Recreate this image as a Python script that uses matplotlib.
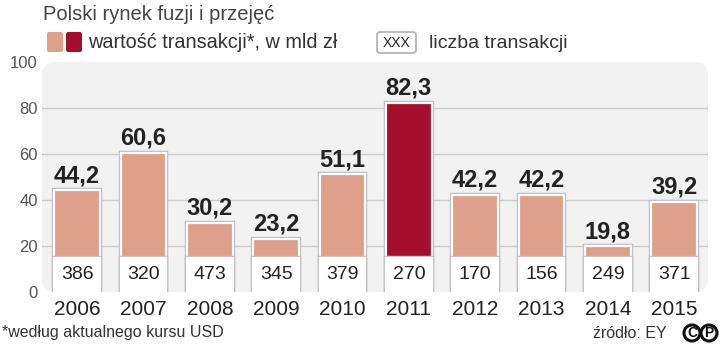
import matplotlib
matplotlib.use("Agg")
import matplotlib.pyplot as plt
import matplotlib.patheffects as pe
from matplotlib.patches import FancyBboxPatch, Ellipse

plt.rcParams["font.family"] = ["Liberation Sans", "DejaVu Sans"]

years = ["2006", "2007", "2008", "2009", "2010", "2011", "2012", "2013", "2014", "2015"]
values = [44.2, 60.6, 30.2, 23.2, 51.1, 82.3, 42.2, 42.2, 19.8, 39.2]
counts = [386, 320, 473, 345, 379, 270, 170, 156, 249, 371]
yticks = [0, 20, 40, 60, 80, 100]

SALMON = "#dea08b"
DARK = "#a50e2d"
W, H = 720, 345


def fx(x):
    return x / W


def fy(y):
    return 1 - y / H


fig = plt.figure(figsize=(7.2, 3.45), dpi=100, facecolor="white")
ax = fig.add_axes([fx(42), fy(292), 666 / W, 230 / H])
ax.set_xlim(-0.53, 9.51)
ax.set_ylim(0, 100)

# light rounded panel behind the bars
bg = FancyBboxPatch((0, 0), 1, 1, boxstyle="round,pad=0,rounding_size=0.02",
                    mutation_aspect=666 / 230, transform=ax.transAxes,
                    facecolor="#f2f2f2", edgecolor="none", zorder=0, clip_on=False)
ax.add_patch(bg)
ax.patch.set_visible(False)
for s in ax.spines.values():
    s.set_visible(False)

ax.set_yticks(yticks)
ax.yaxis.grid(True, color="#cdcdcd", lw=1)
ax.set_axisbelow(True)
gl = ax.yaxis.get_gridlines()
gl[0].set_visible(False)
gl[-1].set_visible(False)
ax.tick_params(axis="y", length=0, labelsize=12, labelcolor="#555555", pad=3)

x = list(range(len(years)))
ax.set_xticks(x)
ax.set_xticklabels(years)
ax.tick_params(axis="x", length=0, labelsize=15, labelcolor="#222222", pad=6)

edge_fx = [pe.Stroke(linewidth=3.2, foreground="#bdbdbd"), pe.Normal()]
top = max(values)
colors = [DARK if v == top else SALMON for v in values]
bars = ax.bar(x, values, width=0.69, color=colors, edgecolor="white", linewidth=1.6, zorder=2)
for b in bars:
    b.set_path_effects(edge_fx)

box_h = 14.8
boxes = ax.bar(x, [box_h] * len(x), width=0.69, color="white", edgecolor="white",
               linewidth=1.6, zorder=3)
for b in boxes:
    b.set_path_effects(edge_fx)

for xi, v, c in zip(x, values, counts):
    ax.annotate(f"{v:.1f}".replace(".", ","), (xi, v), xytext=(0, 6),
                textcoords="offset points", ha="center", va="baseline",
                fontsize=17, fontweight="bold", color="#222222", zorder=4)
    ax.text(xi, box_h / 2, str(c), ha="center", va="center", fontsize=14,
            color="#222222", zorder=4)

# title and legend
fig.text(fx(43), fy(20), "Polski rynek fuzji i przejęć", fontsize=14.5,
         color="#444444", va="baseline")
for x0, col in [(47, SALMON), (66, DARK)]:
    fig.patches.append(FancyBboxPatch((fx(x0), fy(52)), 16 / W, 20 / H,
                                      boxstyle="round,pad=0,rounding_size=0.003",
                                      mutation_aspect=W / H, transform=fig.transFigure,
                                      facecolor=col, edgecolor="none"))
fig.text(fx(88), fy(48), "wartość transakcji*, w mld zł", fontsize=14.3,
         color="#333333", va="baseline")
fig.patches.append(FancyBboxPatch((fx(377), fy(53)), 39 / W, 21 / H,
                                  boxstyle="round,pad=0,rounding_size=0.004",
                                  mutation_aspect=W / H, transform=fig.transFigure,
                                  facecolor="white", edgecolor="#b5b5b5", lw=1.3))
fig.text(fx(396.5), fy(43), "XXX", fontsize=10, color="#222222", ha="center", va="center")
fig.text(fx(429), fy(48), "liczba transakcji", fontsize=14, color="#333333", va="baseline")

# footer
fig.text(fx(2), fy(337), "*według aktualnego kursu USD", fontsize=11.5,
         color="#333333", va="baseline")
fig.text(fx(667), fy(338), "źródło: EY", fontsize=11.5, color="#333333",
         ha="right", va="baseline")
for cx, letter in [(692, "C"), (709, "P")]:
    fig.patches.append(Ellipse((fx(cx), fy(333)), 16 / W, 16 / H, transform=fig.transFigure,
                               facecolor="white", edgecolor="#111111", lw=2.2))
    fig.text(fx(cx), fy(333), letter, fontsize=10, fontweight="bold", color="#111111",
             ha="center", va="center")

fig.savefig("out.png", dpi=100, facecolor="white")
